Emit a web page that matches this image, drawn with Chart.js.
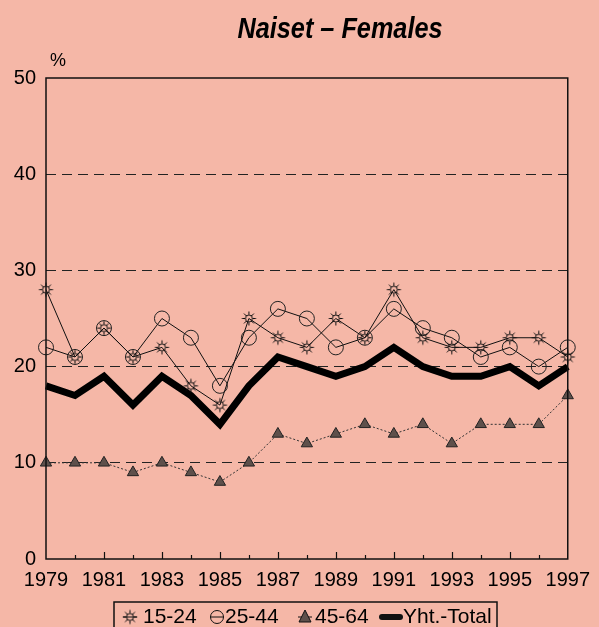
<!DOCTYPE html>
<html>
<head>
<meta charset="utf-8">
<script src="https://cdn.jsdelivr.net/npm/chart.js@4.4.1/dist/chart.umd.min.js"></script>
<style>
  html, body { margin: 0; padding: 0; background: #f5b7a7; }
  canvas { display: block; }
</style>
</head>
<body>
<canvas id="chart" width="599" height="627"></canvas>
<script>
// data (percent)
const years = ["1979","1980","1981","1982","1983","1984","1985","1986","1987","1988",
               "1989","1990","1991","1992","1993","1994","1995","1996","1997"];
const age1524 = [28,21,24,21,22,18,16,25,23,22,25,23,28,23,22,22,23,23,21];
const age2544 = [22,21,24,21,25,23,18,23,26,25,22,23,26,24,23,21,22,20,22];
const age4564 = [10,10,10,9,10,9,8,10,13,12,13,14,13,14,12,14,14,14,17];
const total   = [18,17,19,16,19,17,14,18,21,20,19,20,22,20,19,19,20,18,20];
const seriesNames = ["15-24", "25-44", "45-64", "Yht.-Total"];
const yTicks = [0, 10, 20, 30, 40, 50];

const BG = "#f5b7a7";
const FONT = '"Liberation Sans", Arial, sans-serif';

// sun-like marker for 15-24
function sunMarker() {
  const c = document.createElement("canvas");
  c.width = 17; c.height = 17;
  const g = c.getContext("2d");
  g.translate(8.5, 8.5);
  g.strokeStyle = "#111";
  g.lineWidth = 1;
  g.beginPath();
  g.arc(0, 0, 3.5, 0, Math.PI * 2);
  g.stroke();
  for (let i = 0; i < 8; i++) {
    const a = i * Math.PI / 4;
    g.beginPath();
    g.moveTo(Math.cos(a) * 3.5, Math.sin(a) * 3.5);
    g.lineTo(Math.cos(a) * 7, Math.sin(a) * 7);
    g.stroke();
  }
  return c;
}
const sun = sunMarker();

const decor = {
  id: "decor",
  beforeDraw(chart) {
    const ctx = chart.ctx;
    ctx.save();
    ctx.fillStyle = BG;
    ctx.fillRect(0, 0, chart.width, chart.height);
    ctx.restore();
  },
  afterDatasetsDraw(chart) {
    const ctx = chart.ctx;
    const a = chart.chartArea;
    const xs = chart.scales.x;
    ctx.save();
    // frame
    ctx.strokeStyle = "#111";
    ctx.lineWidth = 1.5;
    ctx.strokeRect(a.left, a.top, a.right - a.left, a.bottom - a.top);
    // inward ticks on x axis
    ctx.lineWidth = 1.2;
    years.forEach((y, i) => {
      if (i === 0 || i === years.length - 1) return;
      const px = Math.round(xs.getPixelForValue(i)) + 0.5;
      const len = i % 2 === 0 ? 7 : 4;
      ctx.beginPath();
      ctx.moveTo(px, a.bottom);
      ctx.lineTo(px, a.bottom - len);
      ctx.stroke();
    });
    ctx.restore();
  },
  afterDraw(chart) {
    const ctx = chart.ctx;
    ctx.save();
    // title, condensed bold italic
    ctx.fillStyle = "#000";
    ctx.font = "italic bold 29px " + FONT;
    ctx.textBaseline = "middle";
    ctx.textAlign = "center";
    const title = "Naiset \u2013 Females";
    const w = ctx.measureText(title).width;
    ctx.translate(340, 30);
    ctx.scale(205 / w, 1);
    ctx.fillText(title, 0, 0);
    ctx.restore();

    ctx.save();
    ctx.fillStyle = "#000";
    ctx.font = "18px " + FONT;
    ctx.textBaseline = "middle";
    ctx.textAlign = "left";
    ctx.fillText("%", 50, 61);

    // legend with frame
    const top = 602, left = 114, right = 497;
    ctx.strokeStyle = "#111";
    ctx.lineWidth = 1.5;
    ctx.strokeRect(left, top, right - left, 40);
    const cy = 617;
    ctx.font = "21px " + FONT;
    const markPos = [130, 217, 305, 391];
    const textPos = [143, 225, 315, 403];
    chart.data.datasets.forEach((ds, i) => {
      const x = markPos[i];
      ctx.strokeStyle = "#111";
      if (i === 3) {
        ctx.lineWidth = 6;
        ctx.lineCap = "round";
        ctx.beginPath();
        ctx.moveTo(x - 9, cy);
        ctx.lineTo(x + 9, cy);
        ctx.stroke();
        ctx.lineCap = "butt";
      } else {
        ctx.lineWidth = 1;
        ctx.beginPath();
        ctx.moveTo(x - 7, cy);
        ctx.lineTo(x + 7, cy);
        ctx.stroke();
        if (i === 0) {
          ctx.drawImage(sun, x - 8.5, cy - 8.5);
        } else if (i === 1) {
          ctx.beginPath();
          ctx.arc(x, cy, 6.5, 0, Math.PI * 2);
          ctx.stroke();
        } else {
          ctx.fillStyle = ds.pointBackgroundColor;
          ctx.beginPath();
          ctx.moveTo(x, cy - 7);
          ctx.lineTo(x + 6, cy + 5);
          ctx.lineTo(x - 6, cy + 5);
          ctx.closePath();
          ctx.fill();
          ctx.stroke();
        }
      }
      ctx.fillStyle = "#000";
      ctx.fillText(seriesNames[i], textPos[i], cy);
    });
    ctx.restore();
  }
};

const ctx = document.getElementById("chart").getContext("2d");
const chart = new Chart(ctx, {
  type: "line",
  data: {
    labels: years,
    datasets: [
      {
        label: seriesNames[0],
        data: age1524,
        borderColor: "#111",
        borderWidth: 1,
        pointStyle: sun,
        pointRadius: 8,
        tension: 0
      },
      {
        label: seriesNames[1],
        data: age2544,
        borderColor: "#111",
        borderWidth: 1,
        pointStyle: "circle",
        pointRadius: 7.5,
        pointBorderWidth: 1,
        pointBackgroundColor: "rgba(0,0,0,0)",
        pointBorderColor: "#222",
        tension: 0
      },
      {
        label: seriesNames[2],
        data: age4564,
        borderColor: "#333",
        borderWidth: 1,
        borderDash: [2, 2],
        pointStyle: "triangle",
        pointRadius: 6.5,
        pointBackgroundColor: "#5e504b",
        pointBorderColor: "#222",
        pointBorderWidth: 1,
        tension: 0
      },
      {
        label: seriesNames[3],
        data: total,
        borderColor: "#000",
        borderWidth: 7,
        borderJoinStyle: "miter",
        pointRadius: 0,
        tension: 0
      }
    ]
  },
  options: {
    responsive: false,
    animation: false,
    layout: { padding: { top: 78, right: 28, left: 0, bottom: 0 } },
    plugins: {
      legend: { display: false },
      title: { display: false },
      tooltip: { enabled: false }
    },
    scales: {
      x: {
        offset: false,
        grid: { display: false, drawTicks: false },
        border: { display: false },
        afterFit: (s) => { s.height = 68; },
        ticks: {
          autoSkip: false,
          maxRotation: 0,
          padding: 9,
          color: "#000",
          font: { size: 20, family: FONT },
          callback: (v, i) => (i % 2 === 0 ? years[i] : "")
        }
      },
      y: {
        min: 0,
        max: 50,
        afterFit: (s) => { s.width = 46; },
        afterBuildTicks: (s) => { s.ticks = yTicks.map(v => ({ value: v })); },
        grid: {
          drawTicks: false,
          color: (c) => (c.tick && (c.tick.value === 0 || c.tick.value === 50)) ? "rgba(0,0,0,0)" : "#222",
          lineWidth: 1
        },
        border: { display: false, dash: [10, 6] },
        ticks: {
          padding: 10,
          color: "#000",
          font: { size: 20, family: FONT }
        }
      }
    }
  },
  plugins: [decor]
});
</script>
</body>
</html>
